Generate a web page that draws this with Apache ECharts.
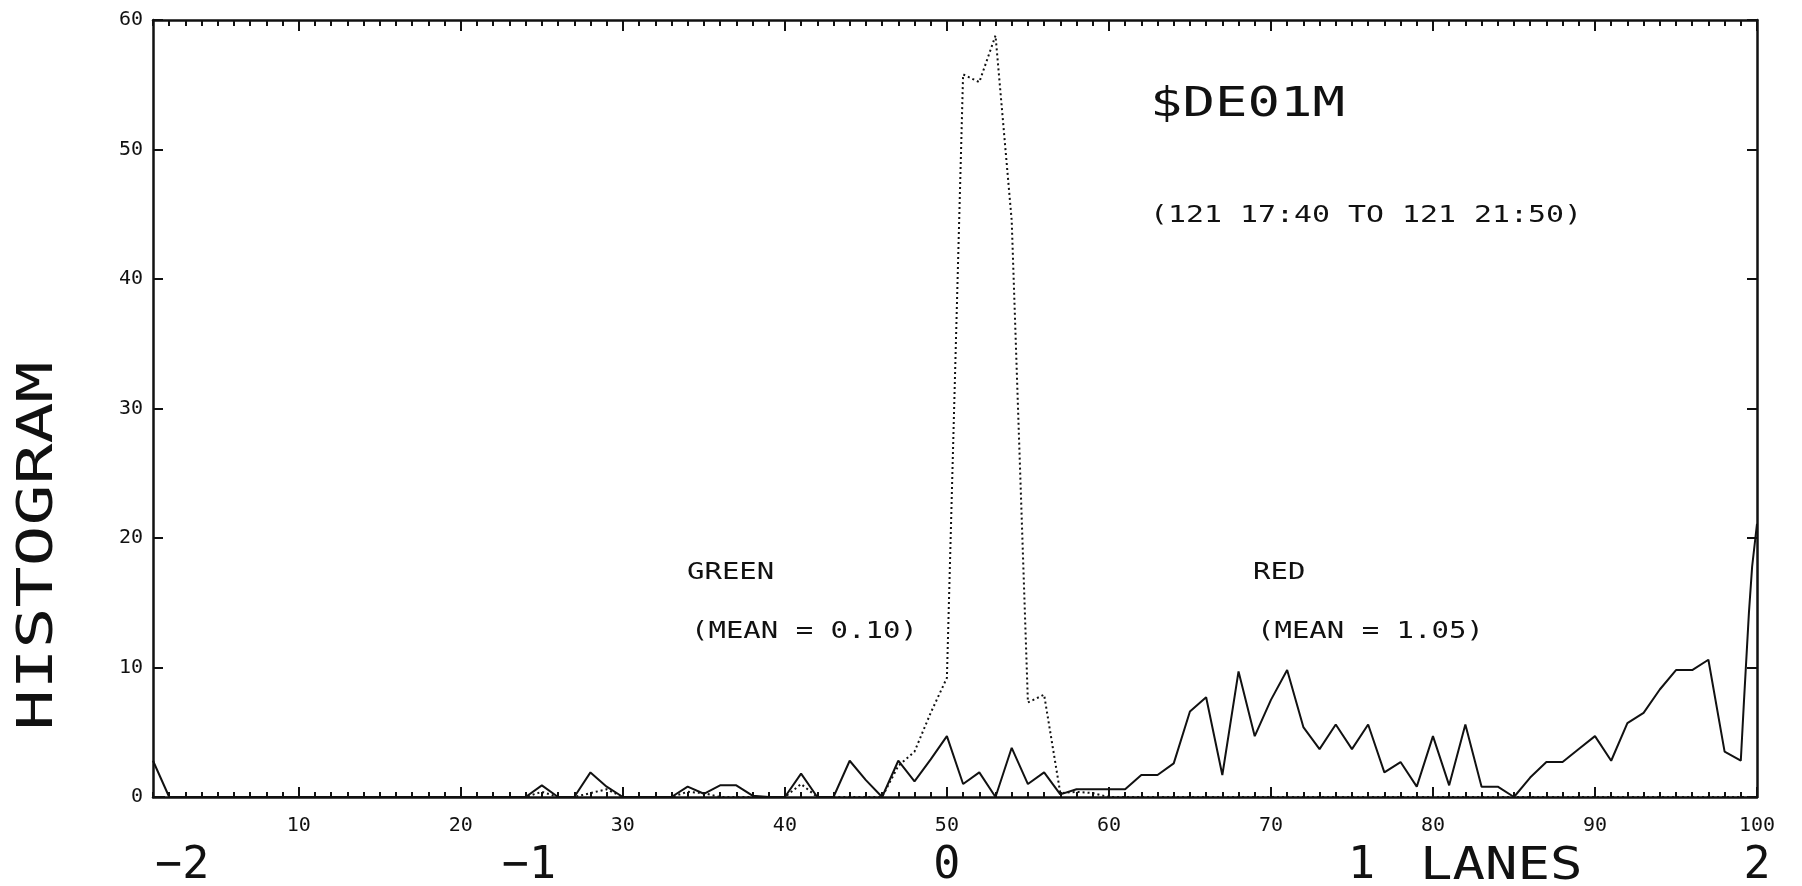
<!DOCTYPE html>
<html>
<head>
<meta charset="utf-8">
<title>$DE01M histogram</title>
<script src="https://cdn.jsdelivr.net/npm/echarts@6/dist/echarts.min.js"></script>
<style>
html, body { margin: 0; padding: 0; background: #fff; }
#chart { width: 1802px; height: 886px; }
</style>
</head>
<body>
<div id="chart"></div>
<script>
// bin positions along the lane axis
const bins = [
    1, 2, 3, 4, 5, 6, 7, 8, 9, 10, 11, 12, 13, 14, 15, 16, 17, 18, 19, 20,
    21, 22, 23, 24, 25, 26, 27, 28, 29, 30, 31, 32, 33, 34, 35, 36, 37, 38, 39, 40,
    41, 42, 43, 44, 45, 46, 47, 48, 49, 50, 51, 52, 53, 54, 55, 56, 57, 58, 59, 60,
    61, 62, 63, 64, 65, 66, 67, 68, 69, 70, 71, 72, 73, 74, 75, 76, 77, 78, 79, 80,
    81, 82, 83, 84, 85, 86, 87, 88, 89, 90, 91, 92, 93, 94, 95, 96, 97, 98, 99, 100
]

// RED histogram, bins 1..99 (solid line)
const redCounts = [
    2.8, 0, 0, 0, 0, 0, 0, 0, 0, 0, 0, 0, 0, 0, 0, 0, 0, 0, 0, 0,
    0, 0, 0, 0, 0.9, 0, 0, 1.9, 0.8, 0, 0, 0, 0, 0.8, 0.25, 0.9, 0.9, 0.1, 0, 0,
    1.8, 0, 0, 2.8, 1.3, 0, 2.8, 1.2, 2.9, 4.7, 1.0, 1.9, 0, 3.8, 1.0, 1.9, 0.2, 0.6, 0.6, 0.6,
    0.6, 1.7, 1.7, 2.6, 6.6, 7.7, 1.7, 9.7, 4.7, 7.5, 9.8, 5.4, 3.7, 5.6, 3.7, 5.6, 1.9, 2.7, 0.8, 4.7,
    0.9, 5.6, 0.8, 0.8, 0, 1.5, 2.7, 2.7, 3.7, 4.7, 2.8, 5.7, 6.5, 8.3, 9.8, 9.8, 10.6, 3.5, 2.8
]
// the last red stroke climbs up the right frame
const redTailX = [99.2, 99.5, 99.7, 100]
const redTailY = [7.5, 14.2, 17.8, 21.1]

// GREEN histogram, bins 1..100 (dotted line)
const greenCounts = [
    0, 0, 0, 0, 0, 0, 0, 0, 0, 0, 0, 0, 0, 0, 0, 0, 0, 0, 0, 0,
    0, 0, 0, 0, 0.4, 0, 0, 0.3, 0.6, 0, 0, 0, 0, 0.4, 0.3, 0, 0, 0, 0, 0,
    1.0, 0, 0, 0, 0, 0, 2.4, 3.5, 6.5, 9.2, 55.8, 55.2, 58.8, 44.5, 7.3, 7.9, 0.3, 0.4, 0.3, 0,
    0, 0, 0, 0, 0, 0, 0, 0, 0, 0, 0, 0, 0, 0, 0, 0, 0, 0, 0, 0,
    0, 0, 0, 0, 0, 0, 0, 0, 0, 0, 0, 0, 0, 0, 0, 0, 0, 0, 0, 0
]

const decadeTicks = [10, 20, 30, 40, 50, 60, 70, 80, 90, 100]
const laneTicks = [2.8, 24.2, 50, 75.6, 100]
const laneLabels = ['\u22122', '\u22121', '0', '1', '2']

const INK = '#111'
const MONO = '"DejaVu Sans Mono", "Liberation Mono", monospace'

let redLine = bins.slice(0, redCounts.length).map((b, i) => [b, redCounts[i]])
redTailX.forEach((x, i) => redLine.push([x, redTailY[i]]))
const greenLine = bins.map((b, i) => [b, greenCounts[i]])

function frameAxis(pos, extra) {
    return Object.assign({
        type: 'value',
        position: pos,
        min: 1,
        max: 100,
        interval: 1,
        axisLine: { show: false },
        axisTick: { show: false },
        axisLabel: { show: false },
        splitLine: { show: false }
    }, extra)
}

function label(text, x, y, size, sx, align, rot) {
    return {
        type: 'text',
        x: x,
        y: y,
        rotation: rot || 0,
        scaleX: sx,
        silent: true,
        style: {
            text: text,
            font: size + 'px ' + MONO,
            fill: INK,
            align: align,
            verticalAlign: 'middle',
            textAlign: align,
            textVerticalAlign: 'middle'
        }
    }
}

const chart = echarts.init(document.getElementById('chart'))

chart.setOption({
    backgroundColor: '#fff',
    animation: false,
    grid: {
        left: 153,
        right: 45,
        top: 20,
        bottom: 89,
        outerBoundsMode: 'none'
    },
    xAxis: [
        frameAxis('bottom', {
            axisLine: { show: true, lineStyle: { color: INK, width: 2.5 } },
            axisTick: { show: true, inside: true, length: 5, lineStyle: { color: INK, width: 2 } },
            axisLabel: {
                show: true,
                customValues: decadeTicks,
                margin: 19,
                color: INK,
                fontFamily: MONO,
                fontSize: 20
            }
        }),
        frameAxis('bottom', {
            axisTick: { show: true, inside: true, length: 10, customValues: decadeTicks, lineStyle: { color: INK, width: 2 } }
        }),
        frameAxis('bottom', {
            axisLabel: {
                show: true,
                customValues: laneTicks,
                formatter: v => laneLabels[laneTicks.indexOf(v)],
                margin: 47,
                color: INK,
                fontFamily: MONO,
                fontSize: 45
            }
        }),
        frameAxis('top', {
            axisLine: { show: true, lineStyle: { color: INK, width: 2.5 } },
            axisTick: { show: true, inside: true, length: 6, lineStyle: { color: INK, width: 2 } }
        }),
        frameAxis('top', {
            axisTick: { show: true, inside: true, length: 11, customValues: decadeTicks, lineStyle: { color: INK, width: 2 } }
        })
    ],
    yAxis: [{
        type: 'value',
        position: 'left',
        min: 0,
        max: 60,
        interval: 10,
        axisLine: { show: true, lineStyle: { color: INK, width: 2.5 } },
        axisTick: { show: true, inside: true, length: 10, lineStyle: { color: INK, width: 2 } },
        axisLabel: { margin: 10, color: INK, fontFamily: MONO, fontSize: 20 },
        splitLine: { show: false }
    }, {
        type: 'value',
        position: 'right',
        min: 0,
        max: 60,
        interval: 10,
        axisLine: { show: true, lineStyle: { color: INK, width: 2.5 } },
        axisTick: { show: true, inside: true, length: 10, lineStyle: { color: INK, width: 2 } },
        axisLabel: { show: false },
        splitLine: { show: false }
    }],
    series: [{
        name: 'GREEN',
        type: 'line',
        xAxisIndex: 0,
        yAxisIndex: 0,
        data: greenLine,
        symbol: 'none',
        lineStyle: { color: INK, width: 2, type: [2, 3] },
        z: 2
    }, {
        name: 'RED',
        type: 'line',
        xAxisIndex: 0,
        yAxisIndex: 0,
        data: redLine,
        symbol: 'none',
        lineStyle: { color: INK, width: 2 },
        z: 3
    }],
    graphic: [
        label('HISTOGRAM', 39, 546, 49, 1.39, 'center', Math.PI / 2),
        label('$DE01M', 1150, 106, 40, 1.35, 'left'),
        label('(121 17:40 TO 121 21:50)', 1150, 216, 23, 1.3, 'left'),
        label('GREEN', 687, 573, 23, 1.26, 'left'),
        label('(MEAN = 0.10)', 691, 632, 23, 1.26, 'left'),
        label('RED', 1253, 573, 23, 1.26, 'left'),
        label('(MEAN = 1.05)', 1257, 632, 23, 1.26, 'left'),
        label('LANES', 1420, 867, 45, 1.2, 'left')
    ]
})
</script>
</body>
</html>
